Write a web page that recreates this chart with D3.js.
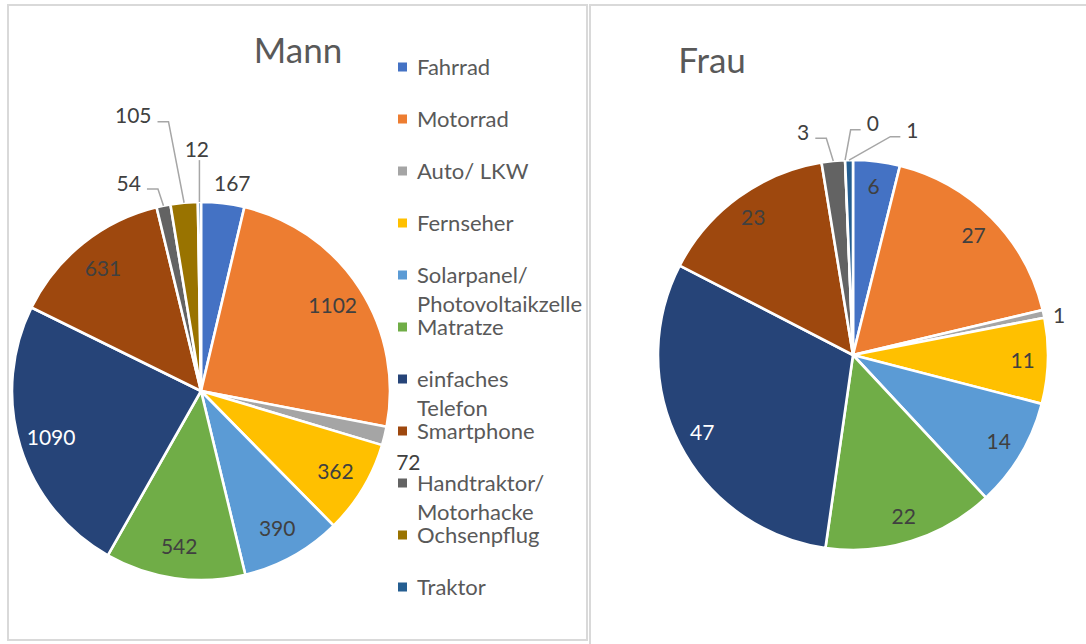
<!DOCTYPE html>
<html>
<head>
<meta charset="utf-8">
<script src="https://cdn.jsdelivr.net/npm/d3@7"></script>
<style>
  html, body { margin: 0; padding: 0; background: #ffffff; }
  svg { display: block; }
  text { font-family: Lato, "Open Sans", "Noto Sans", sans-serif; }
</style>
</head>
<body>
<svg id="chart" width="1086" height="644"></svg>
<script>
// ---------- data ----------
const categories = [
  "Fahrrad", "Motorrad", "Auto/ LKW", "Fernseher",
  "Solarpanel/ Photovoltaikzelle", "Matratze", "einfaches Telefon",
  "Smartphone", "Handtraktor/ Motorhacke", "Ochsenpflug", "Traktor"
];
const mannValues = [167, 1102, 72, 362, 390, 542, 1090, 631, 54, 105, 12];
const frauValues = [6, 27, 1, 11, 14, 22, 47, 23, 3, 0, 1];
const chartTitles = ["Mann", "Frau"];

// ---------- styles / layout ----------
const palette = ["#4472C4", "#ED7D31", "#A5A5A5", "#FFC000", "#5B9BD5", "#70AD47",
                 "#264478", "#9E480E", "#636363", "#997300", "#255E91"];

const layouts = [
  { cx: 201, cy: 391, r: 189, titleX: 298, titleY: 63, inside: 0.83,
    outside: { 0: {k: 1.113, da: 1.9}, 2: {k: 1.16, da: 5.2},
               8: {k: 1.165, da: -7.7, leader: true},
               9: {k: 1.50, da: -8.7, leader: true},
               10: {k: 1.28, da: -0.5, leader: true} } },
  { cx: 853, cy: 355, r: 195, titleX: 712, titleY: 73, inside: 0.87,
    outside: { 2: {k: 1.076, da: 1.2},
               8: {k: 1.17, da: -6.8, leader: true},
               9: {k: 1.19, da: 7.2, leader: true},
               10: {k: 1.19, da: 16, leader: true} } }
];

const svg = d3.select("#chart");

// panel frames
svg.append("rect").attr("x", 8).attr("y", 5).attr("width", 579).attr("height", 635)
  .attr("fill", "#fff").attr("stroke", "#d9d9d9").attr("stroke-width", 2);
svg.append("rect").attr("x", 590).attr("y", 5).attr("width", 520).attr("height", 660)
  .attr("fill", "#fff").attr("stroke", "#d9d9d9").attr("stroke-width", 2);

const color = d3.scaleOrdinal().domain(categories).range(palette);
const pie = d3.pie().sort(null).value(d => d.value);

function luminance(hex) {
  const c = d3.rgb(hex);
  const f = v => { v /= 255; return v <= 0.03928 ? v / 12.92 : Math.pow((v + 0.055) / 1.055, 2.4); };
  return 0.2126 * f(c.r) + 0.7152 * f(c.g) + 0.0722 * f(c.b);
}
const rad = deg => deg * Math.PI / 180;

[mannValues, frauValues].forEach((vals, ci) => {
  const L = layouts[ci];
  const data = categories.map((c, i) => ({ cat: c, value: vals[i], i }));
  const arcs = pie(data);
  const arc = d3.arc().innerRadius(0).outerRadius(L.r);
  const g = svg.append("g");

  // title
  g.append("text").attr("x", L.titleX).attr("y", L.titleY)
    .attr("text-anchor", "middle").attr("font-size", 35).attr("fill", "#595959")
    .text(chartTitles[ci]);

  const pg = g.append("g").attr("transform", `translate(${L.cx},${L.cy})`);
  pg.selectAll("path").data(arcs).join("path")
    .attr("d", arc)
    .attr("fill", d => color(d.data.cat))
    .attr("stroke", "#fff").attr("stroke-width", 2.6).attr("stroke-linejoin", "round");

  // labels
  arcs.forEach(d => {
    const mid = (d.startAngle + d.endAngle) / 2;
    const o = L.outside[d.data.i];
    let lx, ly, fill = "#404040";
    if (o) {
      const a = mid + rad(o.da);
      lx = L.cx + L.r * o.k * Math.sin(a);
      ly = L.cy - L.r * o.k * Math.cos(a);
    } else {
      lx = L.cx + L.r * L.inside * Math.sin(mid);
      ly = L.cy - L.r * L.inside * Math.cos(mid);
      if (luminance(color(d.data.cat)) < 0.09) fill = "#ffffff";
    }
    const t = g.append("text").attr("x", lx).attr("y", ly).attr("dy", "0.36em")
      .attr("text-anchor", "middle").attr("font-size", 21).attr("fill", fill)
      .text(d3.format("d")(d.data.value));
    if (o && o.leader) {
      const w = t.node().getComputedTextLength();
      const ax = L.cx + L.r * Math.sin(mid);
      const ay = L.cy - L.r * Math.cos(mid);
      let pts;
      if (Math.abs(lx - ax) < 8) {
        pts = [[ax, ly + 11], [ax, ay]];
      } else if (lx < ax) {
        const sx = lx + w / 2 + 6;
        pts = [[sx, ly + 6], [sx + 11, ly + 6], [ax, ay]];
      } else {
        const sx = lx - w / 2 - 6;
        pts = [[sx, ly + 6], [sx - 10, ly + 6], [ax, ay]];
      }
      g.append("path").attr("d", d3.line()(pts))
        .attr("fill", "none").attr("stroke", "#A6A6A6").attr("stroke-width", 1.5);
    }
  });
});

// legend
const legend = svg.append("g");
const lgX = 398, lgY0 = 67, lgStep = 52, lgLine = 29, lgMaxW = 150, lgFont = 22;
categories.forEach((c, i) => {
  const y = lgY0 + i * lgStep;
  legend.append("rect").attr("x", lgX).attr("y", y - 4.5).attr("width", 9).attr("height", 9)
    .attr("fill", color(c));
  const t = legend.append("text").attr("x", lgX + 19).attr("y", y)
    .attr("font-size", lgFont).attr("fill", "#595959");
  // greedy word wrap
  const words = c.split(" ");
  let lines = [], cur = "";
  const probe = legend.append("text").attr("font-size", lgFont);
  words.forEach(wd => {
    const test = cur ? cur + " " + wd : wd;
    probe.text(test);
    if (cur && probe.node().getComputedTextLength() > lgMaxW) { lines.push(cur); cur = wd; }
    else cur = test;
  });
  lines.push(cur);
  probe.remove();
  lines.forEach((ln, k) => {
    t.append("tspan").attr("x", lgX + 19).attr("dy", k === 0 ? "0.36em" : lgLine).text(ln);
  });
});
</script>
</body>
</html>
